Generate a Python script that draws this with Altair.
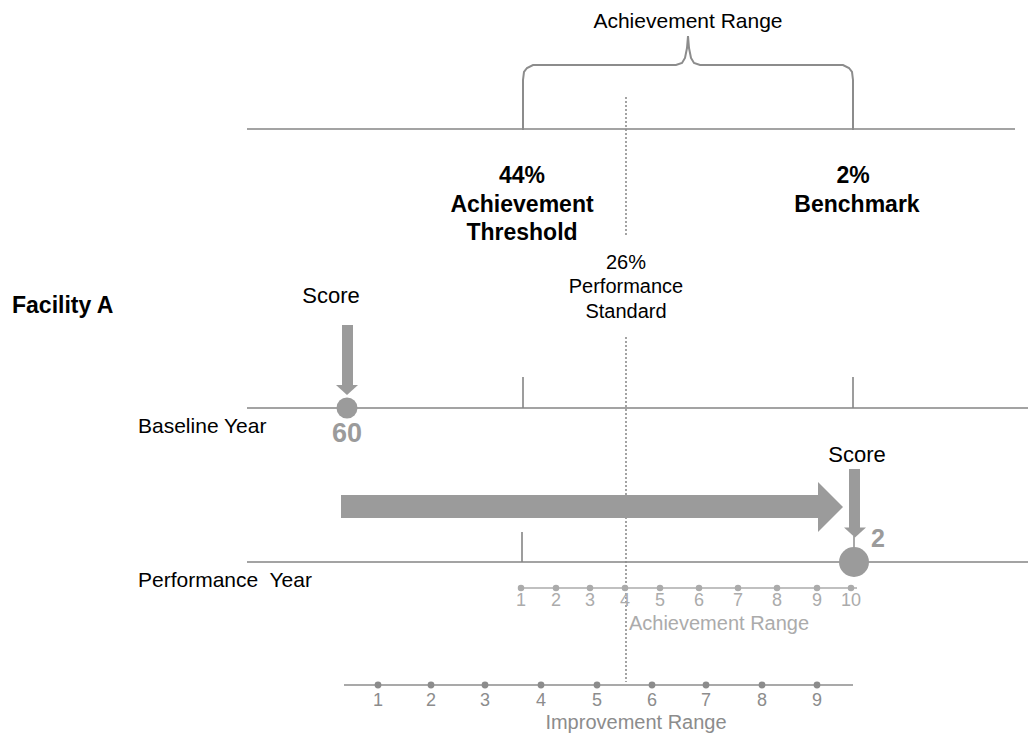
import altair as alt
import pandas as pd

# ---- canvas (schematic diagram drawn in page-pixel units) ----
W, H = 1020, 725
X0, Y0 = 8, 8
XS = alt.Scale(domain=[X0, X0 + W], nice=False, zero=False)
YS = alt.Scale(domain=[Y0, Y0 + H], nice=False, zero=False, reverse=True)
FONT = "Liberation Sans"
ARROW = "#9b9b9b"

# ---- diagram data ----
threshold_x = 523
benchmark_x = 853
standard_x = 626
baseline_score_x = 347
perf_score_x = 854

ach_points = [1, 2, 3, 4, 5, 6, 7, 8, 9, 10]
ach_x = [521, 556, 590, 625, 660, 699, 738, 777, 817, 851]
imp_points = [1, 2, 3, 4, 5, 6, 7, 8, 9]
imp_x = [378, 431, 485, 541, 597, 652, 706, 762, 817]

normal_texts = ["Achievement Range", "26%", "Performance", "Standard", "Score", "Score",
                "Baseline Year", "Performance\u00a0 Year"]
normal_x = [688, standard_x, standard_x, standard_x, 331, 857, 138, 138]
normal_y = [28, 269, 293, 318, 303, 462, 433, 587]
normal_size = [21, 20, 20, 20, 22, 22, 21, 21]
normal_align = ["center"] * 6 + ["left", "left"]

bold_texts = ["44%", "Achievement", "Threshold", "2%", "Benchmark", "Facility A"]
bold_x = [522, 522, 522, 853, 857, 12]
bold_y = [183, 212, 240, 183, 212, 313]
bold_align = ["center"] * 5 + ["left"]

score_texts = ["60", "2"]
score_x = [347, 878]
score_y = [442, 547]
score_size = [27, 25]

# lines: x1, y1, x2, y2, color, width
lines = [
    (247, 129, 1015, 129, "#858585", 1.6),
    (247, 408, 1036, 408, "#858585", 1.6),
    (247, 562, 1036, 562, "#858585", 1.6),
    (threshold_x, 377, threshold_x, 408, "#858585", 1.6),
    (benchmark_x, 377, benchmark_x, 408, "#858585", 1.6),
    (522, 532, 522, 562, "#858585", 1.6),
    (521, 588, 857, 588, "#ababab", 1.6),
    (344, 685, 853, 685, "#8c8c8c", 1.6),
    (perf_score_x, 536, perf_score_x, 549, "#8c8c8c", 1.5),
]
dotted = [(standard_x, 97, standard_x, 237), (standard_x, 337, standard_x, 682)]

brace_x = [523, 523, 524, 527, 533, 676, 682, 685, 687, 688,
           689, 691, 694, 700, 843, 849, 852, 853, 853]
brace_y = [130, 80, 72, 68, 65, 65, 63, 58, 48, 36,
           48, 58, 63, 65, 65, 68, 72, 80, 130]

# arrow shafts: x1, x2, y1, y2
shafts = [
    (341, 819, 495, 518),
    (342, 353, 325, 386),
    (849, 860, 469, 528),
]
# arrow heads: centre x, centre y, shape, size
heads = [
    (830.5, 507, "M-0.5,-1L0.5,0L-0.5,1Z", 2500),
    (347, 390, "M-1,-0.45L1,-0.45L0,0.45Z", 484),
    (855, 532.5, "M-1,-0.45L1,-0.45L0,0.45Z", 484),
]

circles_x = [baseline_score_x, perf_score_x]
circles_y = [408, 562]
circles_size = [440, 900]


def X(f):
    return alt.X(f, type="quantitative", scale=XS, axis=None)


def Y(f):
    return alt.Y(f, type="quantitative", scale=YS, axis=None)


layers = []

# lines
ldf = pd.DataFrame(lines, columns=["x", "y", "x2", "y2", "c", "w"])
layers.append(alt.Chart(ldf).mark_rule().encode(
    x=X("x"), y=Y("y"), x2="x2", y2="y2",
    color=alt.Color("c:N", scale=None),
    strokeWidth=alt.StrokeWidth("w:Q", scale=None)))

ddf = pd.DataFrame(dotted, columns=["x", "y", "x2", "y2"])
layers.append(alt.Chart(ddf).mark_rule(color="#8c8c8c", strokeWidth=1.6, strokeDash=[2, 2]).encode(
    x=X("x"), y=Y("y"), x2="x2", y2="y2"))

# brace
bdf = pd.DataFrame({"x": brace_x, "y": brace_y, "o": range(len(brace_x))})
layers.append(alt.Chart(bdf).mark_line(color="#8c8c8c", strokeWidth=2).encode(
    x=X("x"), y=Y("y"), order="o:Q"))

# arrows
sdf_ = pd.DataFrame(shafts, columns=["x", "x2", "y", "y2"])
layers.append(alt.Chart(sdf_).mark_rect(color=ARROW, opacity=1).encode(
    x=X("x"), x2="x2", y=Y("y"), y2="y2"))
for hx, hy, shp, sz in heads:
    hdf = pd.DataFrame({"x": [hx], "y": [hy]})
    layers.append(alt.Chart(hdf).mark_point(shape=shp, size=sz, filled=True, color=ARROW,
                                            opacity=1, strokeWidth=0).encode(x=X("x"), y=Y("y")))

# score circles
cdf = pd.DataFrame({"x": circles_x, "y": circles_y, "s": circles_size})
layers.append(alt.Chart(cdf).mark_circle(color=ARROW, opacity=1).encode(
    x=X("x"), y=Y("y"), size=alt.Size("s:Q", scale=None)))

# achievement scale
adf = pd.DataFrame({"x": ach_x, "p": ach_points, "y": 588, "ty": 606})
layers.append(alt.Chart(adf).mark_circle(color="#ababab", size=42, opacity=1).encode(
    x=X("x"), y=Y("y")))
layers.append(alt.Chart(adf).mark_text(font=FONT, fontSize=18, color="#ababab", baseline="alphabetic").encode(
    x=X("x"), y=Y("ty"), text="p:N"))

# improvement scale
idf = pd.DataFrame({"x": imp_x, "p": imp_points, "y": 685, "ty": 706})
layers.append(alt.Chart(idf).mark_circle(color="#8c8c8c", size=46, opacity=1).encode(
    x=X("x"), y=Y("y")))
layers.append(alt.Chart(idf).mark_text(font=FONT, fontSize=18, color="#8c8c8c", baseline="alphabetic").encode(
    x=X("x"), y=Y("ty"), text="p:N"))

rdf = pd.DataFrame({"t": ["Achievement Range", "Improvement Range"], "x": [719, 636],
                    "y": [630, 729], "c": ["#ababab", "#8c8c8c"]})
layers.append(alt.Chart(rdf).mark_text(font=FONT, fontSize=20, baseline="alphabetic").encode(
    x=X("x"), y=Y("y"), text="t:N", color=alt.Color("c:N", scale=None)))

# normal texts
ndf = pd.DataFrame({"t": normal_texts, "x": normal_x, "y": normal_y, "s": normal_size, "a": normal_align})
for a in ["center", "left"]:
    sub = ndf[ndf.a == a]
    layers.append(alt.Chart(sub).mark_text(font=FONT, color="black", align=a, baseline="alphabetic").encode(
        x=X("x"), y=Y("y"), text="t:N", size=alt.Size("s:Q", scale=None)))

# bold texts
bdf2 = pd.DataFrame({"t": bold_texts, "x": bold_x, "y": bold_y, "a": bold_align})
for a, fs in [("center", 23), ("left", 23)]:
    sub = bdf2[bdf2.a == a]
    layers.append(alt.Chart(sub).mark_text(font=FONT, fontWeight="bold", fontSize=fs, color="black",
                                           align=a, baseline="alphabetic").encode(
        x=X("x"), y=Y("y"), text="t:N"))

sdf = pd.DataFrame({"t": score_texts, "x": score_x, "y": score_y, "s": score_size})
layers.append(alt.Chart(sdf).mark_text(font=FONT, fontWeight="bold", color=ARROW, baseline="alphabetic").encode(
    x=X("x"), y=Y("y"), text="t:N", size=alt.Size("s:Q", scale=None)))

chart = alt.layer(*layers).properties(
    width=W, height=H, padding=0, autosize=alt.AutoSizeParams(type="none")
).configure_view(stroke=None)

chart.save("out.html", embed_options={"renderer": "svg", "actions": False})
